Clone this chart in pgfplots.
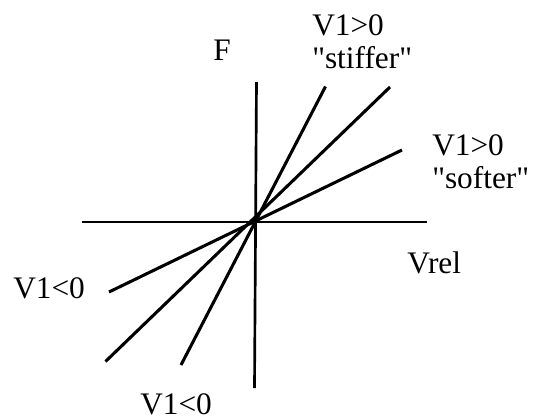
\documentclass[border=0pt]{standalone}
\usepackage{pgfplots}
\pgfplotsset{compat=1.18}
\usepackage{fontspec}
\setmainfont{Liberation Serif}[Ligatures=TeXOff]
\tikzset{lbl/.style={font=\fontsize{23.5}{27}\selectfont, inner sep=0pt, anchor=base west}}
\begin{document}
\begin{tikzpicture}
\begin{axis}[
  scale only axis,
  width=402.75pt, height=314.25pt,
  xmin=0, xmax=537, ymin=0, ymax=419,
  y dir=reverse,
  hide axis,
  clip=false,
]
% axes
\addplot[black, no markers, line width=2pt] coordinates {(82,222) (427,222)};
\addplot[black, no markers, line width=2pt] coordinates {(256.5,82) (254.5,388)};
% steep ("stiffer") line
\addplot[black, no markers, line width=2.3pt] coordinates {(181,365) (325.5,86.5)};
% medium line
\addplot[black, no markers, line width=2.3pt] coordinates {(105.5,361.5) (390,87)};
% shallow ("softer") line
\addplot[black, no markers, line width=2.3pt] coordinates {(109,292) (402,150)};
% labels
\node[lbl] at (axis cs:213,60) {F};
\node[lbl] at (axis cs:312,35) {V1>0};
\node[lbl] at (axis cs:312,68) {"stiffer"};
\node[lbl] at (axis cs:432,155) {V1>0};
\node[lbl] at (axis cs:432,188) {"softer"};
\node[lbl] at (axis cs:407,273) {Vrel};
\node[lbl] at (axis cs:13,298) {V1<0};
\node[lbl] at (axis cs:140,414) {V1<0};
\end{axis}
\pgfresetboundingbox
\useasboundingbox (current axis.south west) rectangle (current axis.north east);
\end{tikzpicture}
\end{document}
